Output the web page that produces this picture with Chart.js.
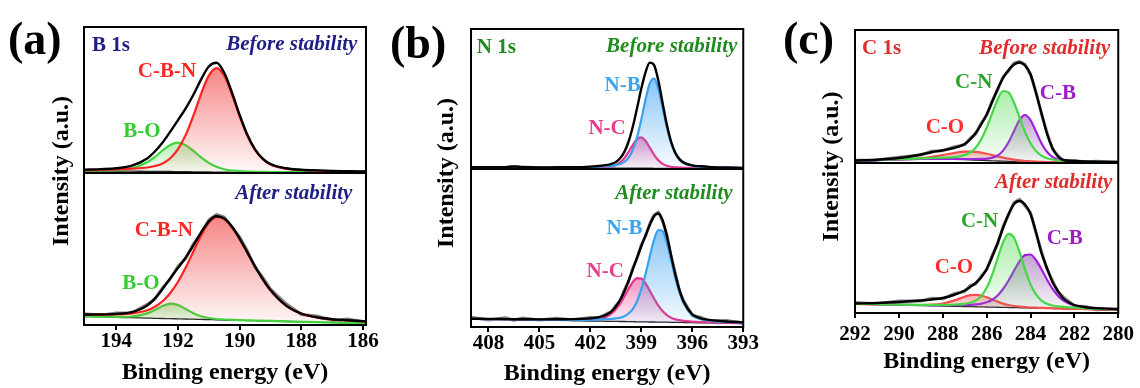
<!DOCTYPE html>
<html><head><meta charset="utf-8">
<script src="https://cdn.jsdelivr.net/npm/chart.js@4/dist/chart.umd.min.js"></script>
<style>
html,body{margin:0;padding:0;background:#fff;}
#wrap{position:relative;width:1140px;height:388px;overflow:hidden;background:#fff;}
canvas{position:absolute;top:0;}
.tag{position:absolute;font-family:"Liberation Serif","Times New Roman",serif;font-weight:bold;font-size:46px;line-height:1;color:#000;z-index:5;}
</style></head><body>
<div id="wrap">
<canvas id="ca" width="380" height="388" style="left:0px"></canvas>
<canvas id="cb" width="380" height="388" style="left:380px"></canvas>
<canvas id="cc" width="380" height="388" style="left:760px"></canvas>
<div class="tag" style="left:8px;top:16px">(a)</div>
<div class="tag" style="left:390px;top:20px">(b)</div>
<div class="tag" style="left:783px;top:16px">(c)</div>
</div>
<script>
// ---------- Panel (a) B 1s ----------
const energyA = [195.05, 194.5, 194, 193.5, 193, 192.75, 192.5, 192.25, 192, 191.75, 191.5, 191.25, 191, 190.75, 190.5, 190.25, 190, 189.75, 189.5, 189.25, 189, 188.5, 188, 187.5, 187, 186.5, 185.9];
const ticksA = [194, 192, 190, 188, 186];
const aTopEnvelope = [3.3, 3.9, 4.8, 7.3, 14.6, 21.5, 30.5, 41.4, 52.9, 64.7, 78.3, 93.6, 106.5, 110.2, 100.2, 80.5, 58.0, 38.2, 23.7, 14.4, 9.0, 4.7, 3.3, 2.6, 2.1, 1.8, 1.5];
const aTopCBN = [2.8, 3.2, 3.6, 4.3, 5.5, 7.0, 9.6, 14.8, 23.9, 38.1, 57.4, 79.1, 97.4, 104.9, 97.2, 78.7, 56.8, 37.3, 23.0, 13.8, 8.5, 4.3, 3.0, 2.3, 1.9, 1.6, 1.3];
const aTopBO = [2.3, 2.5, 3.0, 4.8, 10.8, 16.2, 22.5, 28.1, 30.4, 27.9, 22.1, 15.6, 10.1, 6.2, 3.8, 2.5, 1.8, 1.4, 1.2, 1.1, 1.0, 0.9, 0.8, 0.8, 0.7, 0.7, 0.7];
const aTopBg = [1.8, 1.8, 1.8, 1.8, 1.7, 1.7, 1.6, 1.5, 1.4, 1.3, 1.2, 1.1, 1.0, 0.9, 0.8, 0.7, 0.6, 0.5, 0.5, 0.5, 0.5, 0.5, 0.5, 0.5, 0.5, 0.5, 0.5];
const aBotEnvelope = [10.4, 10.6, 11.1, 12.8, 19.5, 26.6, 36.1, 46.9, 57.1, 67.5, 79.6, 92.6, 103.7, 108.8, 106.5, 98.5, 86.4, 72.6, 58.7, 45.9, 34.9, 19.6, 11.5, 7.7, 5.8, 4.7, 3.6];
const aBotCBN = [10.2, 10.3, 10.6, 11.6, 14.8, 18.3, 23.7, 32.0, 43.3, 57.5, 73.6, 89.5, 102.1, 108.0, 106.0, 98.1, 86.1, 72.3, 58.5, 45.7, 34.7, 19.5, 11.4, 7.6, 5.7, 4.6, 3.5];
const aBotBO = [8.7, 8.4, 8.2, 8.5, 11.6, 15.0, 18.9, 21.3, 20.0, 16.0, 11.8, 8.7, 7.0, 6.0, 5.5, 5.2, 4.9, 4.7, 4.5, 4.3, 4.1, 3.6, 3.2, 2.8, 2.5, 2.1, 1.6];
const aBotBg = [8.5, 8.1, 7.7, 7.3, 6.9, 6.7, 6.5, 6.4, 6.2, 6.0, 5.8, 5.6, 5.4, 5.2, 5.0, 4.8, 4.6, 4.4, 4.3, 4.1, 3.9, 3.5, 3.1, 2.7, 2.4, 2.0, 1.5];
const aBotRaw = [11.2, 9.8, 12.0, 12.0, 20.6, 25.8, 37.2, 46.0, 58.6, 66.5, 81.0, 91.6, 105.0, 110.5, 107.8, 97.6, 88.0, 74.2, 57.6, 47.8, 36.0, 21.5, 10.5, 9.0, 4.6, 6.0, 2.8];

// ---------- Panel (b) N 1s ----------
const energyB = [409.03, 408, 407, 406.5, 406, 405, 404, 403, 402, 401.5, 401, 400.75, 400.5, 400.25, 400, 399.75, 399.5, 399.25, 399, 398.75, 398.5, 398.25, 398, 397.75, 397.5, 397.25, 397, 396.75, 396.5, 396, 395.5, 395, 394, 393];
const ticksB = [408, 405, 402, 399, 396, 393];
const bTopEnvelope = [1.7, 1.7, 1.9, 2.5, 2.0, 1.6, 1.7, 1.8, 2.4, 3.0, 4.1, 5.1, 7.1, 10.7, 17.1, 27.5, 42.5, 61.1, 80.6, 96.9, 106.4, 103.9, 88.5, 66.1, 44.4, 27.5, 16.3, 9.9, 6.4, 3.7, 2.7, 2.1, 1.5, 1.1];
const bTopNB = [1.6, 1.6, 1.8, 2.4, 1.9, 1.5, 1.5, 1.5, 1.9, 2.2, 2.8, 3.2, 3.9, 5.0, 7.1, 11.3, 19.2, 31.9, 49.7, 69.7, 85.9, 90.4, 80.4, 61.6, 41.8, 25.9, 15.2, 9.0, 5.7, 3.2, 2.3, 1.8, 1.3, 1.0];
const bTopNC = [1.6, 1.6, 1.7, 2.3, 1.7, 1.3, 1.2, 1.1, 1.3, 1.6, 2.2, 2.8, 4.1, 6.6, 10.9, 17.1, 24.2, 30.0, 31.7, 28.0, 21.3, 14.2, 8.8, 5.2, 3.2, 2.2, 1.7, 1.5, 1.2, 1.0, 0.9, 0.8, 0.7, 0.6];
const bTopBg = [1.5, 1.5, 1.6, 2.2, 1.6, 1.2, 1.0, 0.8, 0.8, 0.8, 0.9, 0.9, 0.9, 0.9, 0.9, 0.9, 0.9, 0.8, 0.8, 0.8, 0.8, 0.7, 0.7, 0.7, 0.6, 0.6, 0.6, 0.6, 0.5, 0.5, 0.5, 0.5, 0.5, 0.5];
const bBotEnvelope = [8.3, 8.1, 7.9, 7.8, 7.8, 7.6, 7.7, 7.9, 8.6, 9.8, 12.8, 15.9, 20.6, 27.1, 35.8, 46.3, 57.8, 69.6, 81.0, 91.7, 102.2, 110.8, 113.5, 106.8, 91.3, 71.7, 52.4, 36.7, 25.0, 12.7, 8.6, 7.1, 5.5, 4.7];
const bBotNB = [8.2, 7.9, 7.7, 7.6, 7.5, 7.3, 7.2, 7.1, 7.2, 7.5, 7.8, 8.1, 8.6, 9.3, 10.8, 13.5, 18.1, 26.0, 37.8, 53.3, 71.0, 87.3, 97.0, 95.8, 84.2, 67.1, 49.4, 34.5, 23.4, 11.6, 7.8, 6.4, 5.1, 4.4];
const bBotNC = [8.1, 7.85, 7.6, 7.5, 7.45, 7.2, 7.1, 7.1, 7.4, 8.2, 10.7, 13.5, 17.6, 23.3, 30.5, 38.2, 45.0, 48.8, 48.4, 43.5, 36.2, 28.5, 21.4, 15.9, 11.9, 9.3, 7.6, 6.8, 6.1, 5.4, 5.0, 4.8, 4.2, 3.8];
const bBotBg = [8.0, 7.7, 7.4, 7.3, 7.2, 6.9, 6.6, 6.3, 6.0, 5.9, 5.7, 5.7, 5.6, 5.5, 5.5, 5.4, 5.3, 5.2, 5.2, 5.1, 5.0, 5.0, 4.9, 4.9, 4.8, 4.7, 4.6, 4.6, 4.5, 4.3, 4.2, 4.1, 3.8, 3.5];
const bBotRaw = [9.8, 7.0, 9.2, 6.8, 9.0, 6.9, 8.8, 7.0, 9.5, 9.0, 13.8, 15.0, 21.8, 26.0, 37.0, 45.5, 59.0, 68.8, 82.2, 90.8, 103.5, 112.0, 114.8, 105.8, 92.5, 70.6, 53.6, 35.8, 26.0, 11.8, 9.6, 6.2, 6.5, 4.0];

// ---------- Panel (c) C 1s ----------
const energyC = [292, 291, 290, 289, 288.5, 288, 287.5, 287, 286.75, 286.5, 286.25, 286, 285.75, 285.5, 285.25, 285, 284.75, 284.5, 284.25, 284, 283.75, 283.5, 283.25, 283, 282.75, 282.5, 282, 281.5, 281, 280];
const ticksC = [292, 290, 288, 286, 284, 282, 280];
const cTopEnvelope = [2.5, 3.3, 5.0, 8.5, 10.8, 12.8, 15.0, 19.0, 23.5, 30.0, 38.5, 48.5, 61.0, 74.0, 85.0, 93.0, 98.5, 100.5, 97.5, 89.0, 70.0, 50.0, 29.5, 15.0, 6.5, 3.0, 2.0, 1.6, 1.3, 1.1];
const cTopCN = [2.3, 3.2, 3.9, 4.6, 5.0, 5.4, 5.9, 7.9, 10.5, 15.3, 23.5, 35.2, 49.5, 63.4, 72.0, 70.7, 60.3, 45.5, 31.1, 19.7, 12.0, 7.4, 4.8, 3.5, 2.7, 2.3, 1.8, 1.5, 1.2, 1.0];
const cTopCB = [2.1, 2.9, 3.5, 4.0, 4.1, 4.2, 4.1, 4.0, 4.0, 4.0, 4.1, 4.4, 5.3, 7.5, 12.4, 20.7, 32.1, 43.2, 48.0, 42.9, 31.5, 19.8, 11.2, 6.1, 3.6, 2.4, 1.6, 1.2, 1.0, 0.8];
const cTopCO = [2.2, 3.0, 3.7, 5.0, 6.2, 8.0, 9.9, 11.4, 11.5, 11.1, 10.4, 9.3, 7.9, 6.6, 5.4, 4.3, 3.4, 2.6, 2.0, 1.7, 1.4, 1.2, 1.0, 0.9, 0.8, 0.74, 0.7, 0.66, 0.66, 0.6];
const cTopBg = [2.0, 2.8, 3.3, 3.7, 3.8, 3.8, 3.6, 3.3, 3.1, 2.9, 2.7, 2.5, 2.2, 2.0, 1.8, 1.6, 1.4, 1.2, 1.0, 0.9, 0.8, 0.7, 0.6, 0.6, 0.5, 0.5, 0.5, 0.5, 0.5, 0.5];
const cTopRaw = [2.8, 3.0, 5.8, 8.0, 11.8, 12.2, 16.0, 18.2, 24.8, 29.0, 39.8, 47.5, 62.0, 73.0, 86.2, 92.0, 99.8, 101.5, 98.7, 88.0, 71.2, 49.0, 30.5, 14.0, 7.5, 2.4, 2.6, 1.0, 1.8, 0.8];
const cBotEnvelope = [9.5, 10.0, 11.0, 12.5, 13.5, 15.0, 18.0, 22.5, 26.0, 30.0, 35.5, 44.0, 56.0, 70.0, 85.0, 99.0, 109.0, 112.0, 108.5, 99.0, 81.0, 60.0, 45.0, 31.0, 22.0, 14.5, 8.0, 5.8, 4.9, 3.8];
const cBotCN = [9.2, 8.8, 8.4, 8.2, 8.15, 8.2, 8.45, 9.2, 10.2, 12.35, 16.9, 25.2, 38.2, 54.55, 70.6, 79.1, 75.2, 60.95, 43.7, 28.9, 18.6, 12.45, 9.2, 7.5, 6.6, 6.05, 5.3, 4.65, 4.2, 3.5];
const cBotCB = [9.2, 8.8, 8.4, 8.0, 7.9, 7.8, 7.85, 8.0, 8.2, 8.55, 9.2, 10.7, 13.3, 17.55, 24.0, 32.5, 42.4, 51.75, 57.9, 58.5, 53.0, 43.75, 33.5, 24.4, 17.3, 12.35, 7.4, 5.55, 4.8, 3.7];
const cBotCO = [9.1, 8.65, 8.25, 8.0, 8.3, 9.5, 12.35, 16.3, 17.8, 18.25, 17.5, 15.8, 13.6, 11.35, 9.4, 8.0, 7.0, 6.3, 5.8, 5.5, 5.3, 5.05, 4.85, 4.75, 4.6, 4.45, 4.15, 3.85, 3.6, 3.1];
const cBotBg = [9.0, 8.5, 8.0, 7.5, 7.25, 7.0, 6.75, 6.5, 6.4, 6.25, 6.1, 6.0, 5.9, 5.75, 5.6, 5.5, 5.4, 5.25, 5.1, 5.0, 4.9, 4.75, 4.6, 4.5, 4.4, 4.25, 4.0, 3.75, 3.5, 3.0];
const cBotRaw = [10.5, 9.2, 12.0, 12.0, 14.8, 14.2, 19.2, 21.5, 27.5, 29.0, 37.0, 43.0, 57.5, 69.0, 86.5, 98.0, 110.5, 113.8, 107.2, 100.5, 80.0, 61.5, 44.0, 32.5, 21.0, 15.8, 7.0, 6.5, 3.2, 4.2];

// ---------- helpers ----------
const SERIF = '"Liberation Serif", "Times New Roman", serif';
const pts = (xs, ys) => xs.map((x, i) => ({x: x, y: ys[i]}));

function gradFill(rgb, alpha, axisId, ys) {
  const peak = Math.max(...ys);
  return function (ctx) {
    const chart = ctx.chart;
    const s = chart.scales[axisId];
    if (!s || !chart.chartArea) return 'rgba(0,0,0,0)';
    const y0 = s.getPixelForValue(peak), y1 = s.getPixelForValue(0);
    const g = chart.ctx.createLinearGradient(0, y0, 0, y1);
    g.addColorStop(0, 'rgba(' + rgb + ',' + alpha + ')');
    g.addColorStop(1, 'rgba(' + rgb + ',0.03)');
    return g;
  };
}

function buildDatasets(energy, subs) {
  const ds = [];
  subs.forEach(sub => {
    const start = ds.length;
    const bgIndex = start + 1 + sub.comps.length;
    ds.push({data: pts(energy, sub.env), yAxisID: sub.axis, borderColor: '#000', borderWidth: 2.4,
             fill: false, cubicInterpolationMode: 'monotone'});
    sub.comps.forEach(c => {
      ds.push({data: pts(energy, c.ys), yAxisID: sub.axis, borderColor: c.color, borderWidth: 2.2,
               backgroundColor: gradFill(c.fill, c.alpha, sub.axis, c.ys), fill: bgIndex,
               cubicInterpolationMode: 'monotone'});
    });
    ds.push({data: pts(energy, sub.bg), yAxisID: sub.axis, borderColor: '#222', borderWidth: 1.3,
             fill: false, cubicInterpolationMode: 'monotone'});
    if (sub.raw) {
      ds.push({data: pts(energy, sub.raw), yAxisID: sub.axis, borderColor: 'rgba(115,115,115,0.9)',
               borderWidth: 3, fill: false, tension: 0});
    }
  });
  return ds;
}

const framePlugin = {
  id: 'frame',
  afterDraw(chart, args, opts) {
    const {ctx, chartArea: ca} = chart;
    const yT = chart.scales.yTop, x = chart.scales.x;
    ctx.save();
    ctx.strokeStyle = '#000'; ctx.lineWidth = 2;
    ctx.strokeRect(ca.left, ca.top, ca.right - ca.left, ca.bottom - ca.top);
    ctx.beginPath(); ctx.moveTo(ca.left, yT.bottom); ctx.lineTo(ca.right, yT.bottom); ctx.stroke();
    ctx.fillStyle = '#000';
    ctx.font = 'bold 24px ' + SERIF;
    ctx.textAlign = 'center'; ctx.textBaseline = 'middle';
    ctx.translate(ca.left - opts.yTitleOffset, (ca.top + ca.bottom) / 2 - 5);
    ctx.rotate(-Math.PI / 2);
    ctx.fillText('Intensity (a.u.)', 0, 0);
    ctx.restore();
    (opts.labels || []).forEach(L => {
      ctx.save();
      ctx.font = (L.italic ? 'italic ' : '') + 'bold 21px ' + SERIF;
      ctx.fillStyle = L.color;
      ctx.textAlign = L.align || 'center';
      ctx.textBaseline = 'middle';
      ctx.fillText(L.text, x.getPixelForValue(L.x), chart.scales[L.axis].getPixelForValue(L.y));
      ctx.restore();
    });
  }
};

function makeChart(id, cfg) {
  const tickFont = {family: SERIF, size: 21, weight: 'bold', lineHeight: 1};
  return new Chart(document.getElementById(id), {
    type: 'line',
    data: {datasets: cfg.datasets},
    options: {
      responsive: false, animation: false, devicePixelRatio: 1,
      layout: {padding: {left: cfg.padL, right: cfg.padR, top: cfg.padT, bottom: 0}},
      plugins: {legend: {display: false}, tooltip: {enabled: false},
                frame: {labels: cfg.labels, yTitleOffset: cfg.yTitleOffset}},
      elements: {point: {radius: 0}, line: {borderJoinStyle: 'round', borderCapStyle: 'round'}},
      scales: {
        x: {type: 'linear', min: cfg.xmin, max: cfg.xmax, reverse: true,
            afterBuildTicks: s => { s.ticks = cfg.ticks.map(v => ({value: v})); },
            afterFit: s => { s.height = cfg.xH; },
            ticks: {color: '#000', font: tickFont, padding: cfg.tickPad, maxRotation: 0, autoSkip: false},
            grid: {display: true, drawOnChartArea: false, drawTicks: true, tickLength: 5, color: '#000', lineWidth: 2},
            border: {display: false},
            title: {display: true, text: 'Binding energy (eV)', color: '#000',
                    font: {family: SERIF, size: 24, weight: 'bold', lineHeight: 1},
                    padding: {top: 0, bottom: cfg.titlePad}}},
        yBot: {type: 'linear', position: 'left', stack: 'xps', stackWeight: cfg.hBot, min: 0, max: cfg.hBot,
               ticks: {display: false}, grid: {display: false}, border: {display: false},
               afterFit: s => { s.width = 0; }},
        yTop: {type: 'linear', position: 'left', stack: 'xps', stackWeight: cfg.hTop, min: 0, max: cfg.hTop,
               ticks: {display: false}, grid: {display: false}, border: {display: false},
               afterFit: s => { s.width = 0; }}
      }
    },
    plugins: [framePlugin]
  });
}

// ---------- colours ----------
const NAVY = '#1e1e84', DKGREEN = '#1f8c1f', CRED = '#e02c2c';

makeChart('ca', {
  datasets: buildDatasets(energyA, [
    {axis: 'yTop', env: aTopEnvelope, bg: aTopBg,
     comps: [{ys: aTopCBN, color: '#ff2222', fill: '240,60,60', alpha: 0.62}, {ys: aTopBO, color: '#3cd83c', fill: '90,225,90', alpha: 0.45}]},
    {axis: 'yBot', env: aBotEnvelope, bg: aBotBg, raw: aBotRaw,
     comps: [{ys: aBotCBN, color: '#ff2222', fill: '240,60,60', alpha: 0.62}, {ys: aBotBO, color: '#3cd83c', fill: '90,225,90', alpha: 0.45}]}
  ]),
  xmin: 185.9, xmax: 195.05, ticks: ticksA,
  padL: 84, padR: 14, padT: 27, xH: 63, tickPad: 1, titlePad: 3.5, hTop: 146, hBot: 152, yTitleOffset: 22,
  labels: [
    {text: 'B 1s', x: 194.79, y: 127.5, axis: 'yTop', color: NAVY, align: 'left'},
    {text: 'Before stability', x: 186.18, y: 128, axis: 'yTop', color: NAVY, align: 'right', italic: true},
    {text: 'C-B-N', x: 192.36, y: 101, axis: 'yTop', color: '#ff2626'},
    {text: 'B-O', x: 193.17, y: 41, axis: 'yTop', color: '#33cc33'},
    {text: 'After stability', x: 186.34, y: 131, axis: 'yBot', color: NAVY, align: 'right', italic: true},
    {text: 'C-B-N', x: 192.46, y: 94, axis: 'yBot', color: '#ff2626'},
    {text: 'B-O', x: 193.2, y: 41, axis: 'yBot', color: '#33cc33'}
  ]
});

makeChart('cb', {
  datasets: buildDatasets(energyB, [
    {axis: 'yTop', env: bTopEnvelope, bg: bTopBg,
     comps: [{ys: bTopNB, color: '#38a2f0', fill: '60,160,240', alpha: 0.6}, {ys: bTopNC, color: '#e8338c', fill: '235,60,140', alpha: 0.55}]},
    {axis: 'yBot', env: bBotEnvelope, bg: bBotBg, raw: bBotRaw,
     comps: [{ys: bBotNB, color: '#38a2f0', fill: '60,160,240', alpha: 0.6}, {ys: bBotNC, color: '#e8338c', fill: '235,60,140', alpha: 0.55}]}
  ]),
  xmin: 393, xmax: 409.03, ticks: ticksB,
  padL: 91, padR: 9, padT: 29, xH: 61, tickPad: 1, titlePad: 2.5, hTop: 140, hBot: 158, yTitleOffset: 24,
  labels: [
    {text: 'N 1s', x: 408.69, y: 121, axis: 'yTop', color: DKGREEN, align: 'left'},
    {text: 'Before stability', x: 393.35, y: 122.5, axis: 'yTop', color: DKGREEN, align: 'right', italic: true},
    {text: 'N-B', x: 400.1, y: 83, axis: 'yTop', color: '#3aa4ee'},
    {text: 'N-C', x: 401.02, y: 40, axis: 'yTop', color: '#e83d8e'},
    {text: 'After stability', x: 393.63, y: 133, axis: 'yBot', color: DKGREEN, align: 'right', italic: true},
    {text: 'N-B', x: 399.99, y: 98, axis: 'yBot', color: '#3aa4ee'},
    {text: 'N-C', x: 401.13, y: 55, axis: 'yBot', color: '#e83d8e'}
  ]
});

makeChart('cc', {
  datasets: buildDatasets(energyC, [
    {axis: 'yTop', env: cTopEnvelope, bg: cTopBg, raw: cTopRaw,
     comps: [{ys: cTopCN, color: '#45d845', fill: '90,220,90', alpha: 0.5}, {ys: cTopCB, color: '#a11ee0', fill: '130,70,160', alpha: 0.5},
             {ys: cTopCO, color: '#ff4a4a', fill: '240,90,90', alpha: 0.5}]},
    {axis: 'yBot', env: cBotEnvelope, bg: cBotBg, raw: cBotRaw,
     comps: [{ys: cBotCN, color: '#45d845', fill: '90,220,90', alpha: 0.5}, {ys: cBotCB, color: '#a11ee0', fill: '130,70,160', alpha: 0.5},
             {ys: cBotCO, color: '#ff4a4a', fill: '240,90,90', alpha: 0.5}]}
  ]),
  xmin: 280, xmax: 292, ticks: ticksC,
  padL: 95, padR: 19, padT: 30, xH: 75, tickPad: 6, titlePad: 14, hTop: 133, hBot: 150, yTitleOffset: 23,
  labels: [
    {text: 'C 1s', x: 291.68, y: 114.5, axis: 'yTop', color: CRED, align: 'left'},
    {text: 'Before stability', x: 280.36, y: 114.5, axis: 'yTop', color: CRED, align: 'right', italic: true},
    {text: 'C-N', x: 286.59, y: 80, axis: 'yTop', color: '#2aa52a'},
    {text: 'C-B', x: 282.75, y: 69, axis: 'yTop', color: '#9b1fc4'},
    {text: 'C-O', x: 287.9, y: 35, axis: 'yTop', color: '#ff2d2d'},
    {text: 'After stability', x: 280.27, y: 130, axis: 'yBot', color: CRED, align: 'right', italic: true},
    {text: 'C-N', x: 286.32, y: 91, axis: 'yBot', color: '#2aa52a'},
    {text: 'C-B', x: 282.44, y: 74, axis: 'yBot', color: '#9b1fc4'},
    {text: 'C-O', x: 287.49, y: 45, axis: 'yBot', color: '#ff2d2d'}
  ]
});
</script>
</body></html>
